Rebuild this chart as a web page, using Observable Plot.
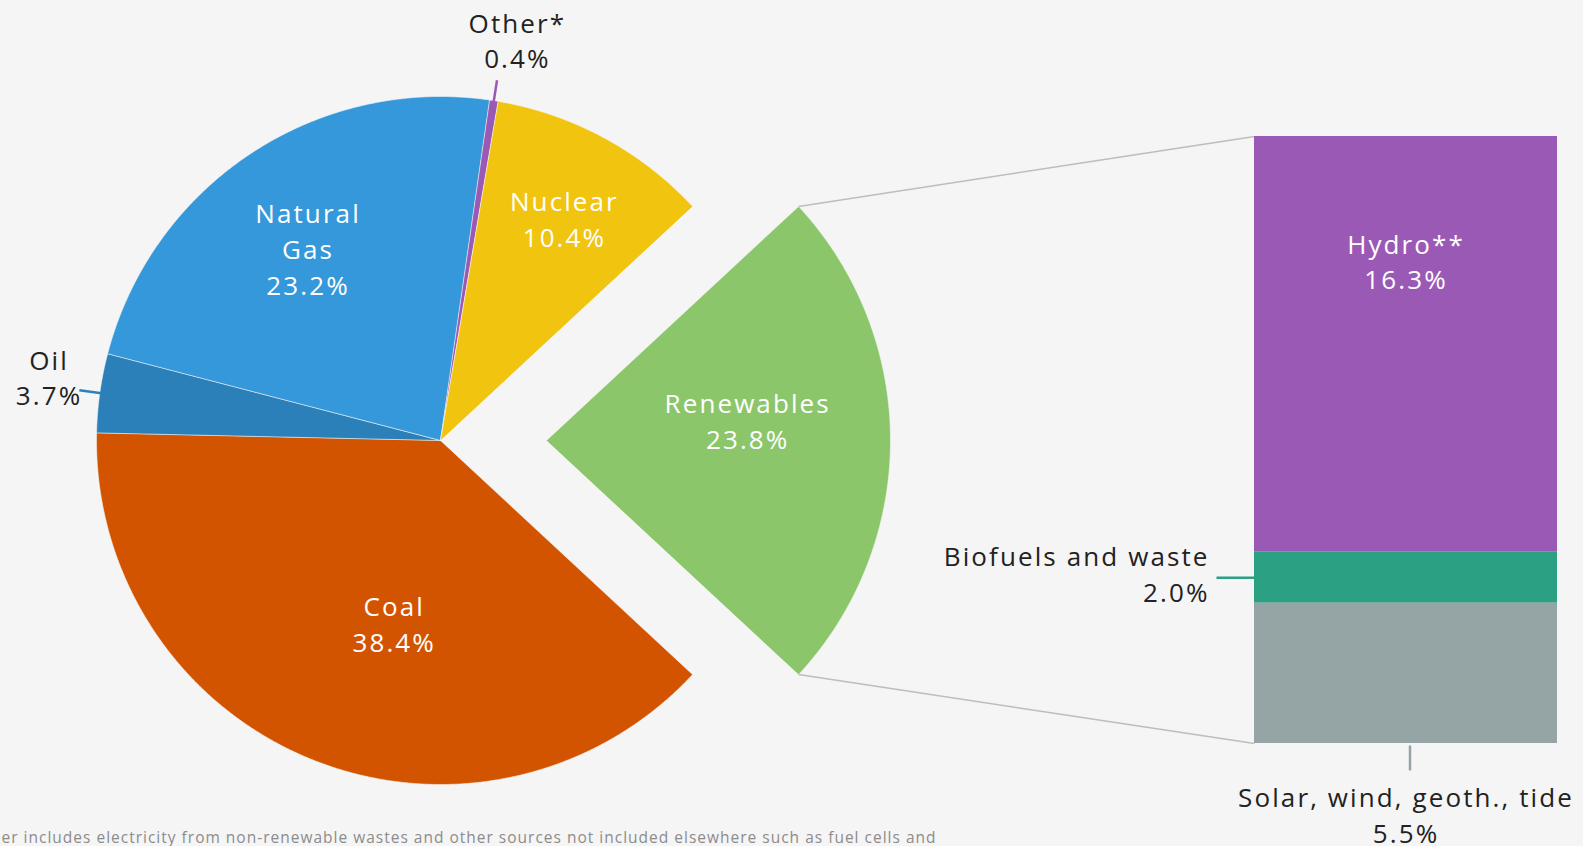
<!DOCTYPE html>
<html><head><meta charset="utf-8">
<script src="https://cdn.jsdelivr.net/npm/d3@7"></script>
<script src="https://cdn.jsdelivr.net/npm/@observablehq/plot@0.6"></script>
<style>html,body{margin:0;padding:0;background:#f5f5f5;overflow:hidden}</style>
</head><body><div id="chart"></div><script>
// ---- data ----
const sources = ["Renewables", "Coal", "Oil", "Natural Gas", "Other*", "Nuclear"];
const sourceLabels = ["Renewables", "Coal", "Oil", "Natural\nGas", "Other*", "Nuclear"];
const shares = [23.8, 38.4, 3.7, 23.2, 0.4, 10.4];
const sourceColors = ["#8cc66a", "#d35400", "#2c80b9", "#3498db", "#9b59b6", "#f1c40f"];

const renewableParts = ["Hydro**", "Biofuels and waste", "Solar, wind, geoth., tide"];
const renewableShares = [16.3, 2.0, 5.5];
const renewableColors = ["#9b59b6", "#2ca083", "#95a5a6"];

const footnote = "*Other includes electricity from non-renewable wastes and other sources not included elsewhere such as fuel cells and";

// ---- layout ----
const W = 1583, H = 846;
const cx = 440, cy = 440, R = 344, explode = 106;
const barX0 = 1254, barX1 = 1557, barY0 = 136, barY1 = 743;
const labelLayout = {
  "Renewables": {f: 0.587, da: -5, inside: true},
  "Coal": {f: 0.554, da: -8, inside: true},
  "Oil": {f: 1.152, da: 1, inside: false},
  "Natural Gas": {f: 0.673, da: -1.3, inside: true},
  "Other*": {f: 1.18, da: 2, inside: false},
  "Nuclear": {f: 0.734, da: 1, inside: true}
};

// ---- geometry from data ----
const total = d3.sum(shares);
const start = Math.PI / 2 - Math.PI * shares[0] / total;
const arcs = d3.pie().sort(null).value(d => d).startAngle(start).endAngle(start + 2 * Math.PI)(shares);
const slices = sources.map((name, i) => ({
  name, value: shares[i], label: sourceLabels[i],
  a0: arcs[i].startAngle, a1: arcs[i].endAngle,
  ox: i === 0 ? explode : 0
}));
const pt = (s, rr, a) => ({x: cx + s.ox + rr * Math.sin(a), y: cy - rr * Math.cos(a)});

const polygons = [];
for (const s of slices) {
  polygons.push({name: s.name, ...pt(s, 0, 0)});
  const n = Math.max(2, Math.ceil((s.a1 - s.a0) / (Math.PI / 720)));
  for (let k = 0; k <= n; k++) polygons.push({name: s.name, ...pt(s, R, s.a0 + (s.a1 - s.a0) * k / n)});
}

const labels = slices.map(s => {
  const L = labelLayout[s.name];
  const mid = (s.a0 + s.a1) / 2 + L.da * Math.PI / 180;
  return {name: s.name, text: `${s.label}\n${s.value.toFixed(1)}%`, inside: L.inside, ...pt(s, R * L.f, mid)};
});

const leaders = slices.filter(s => !labelLayout[s.name].inside).map(s => {
  const mid = (s.a0 + s.a1) / 2;
  const p1 = pt(s, R * 0.995, mid), p2 = pt(s, R * 1.06, mid);
  return {name: s.name, x1: p1.x, y1: p1.y, x2: p2.x, y2: p2.y};
});

// stacked bar
const ren = slices[0];
const barScale = d3.scaleLinear().domain([0, d3.sum(renewableShares)]).range([barY0, barY1]);
let acc = 0;
const bars = renewableParts.map((name, i) => {
  const b = {name, value: renewableShares[i], y1: barScale(acc), y2: barScale(acc + renewableShares[i])};
  acc += renewableShares[i];
  return b;
});
const barMidX = (barX0 + barX1) / 2;
const lbl = b => `${b.name}\n${b.value.toFixed(1)}%`;

const tipTop = pt(ren, R, ren.a0), tipBot = pt(ren, R, ren.a1);
const connectors = [
  {x1: tipTop.x, y1: tipTop.y, x2: barX0, y2: barY0},
  {x1: tipBot.x, y1: tipBot.y, x2: barX0, y2: barY1}
];

const hydroLabel = [{text: lbl(bars[0]), x: barMidX, y: bars[0].y1 + 0.305 * (bars[0].y2 - bars[0].y1)}];
const bioLabel = [{text: lbl(bars[1]), x: barX0 - 45, y: (bars[1].y1 + bars[1].y2) / 2 - 2}];
const solarLabel = [{text: lbl(bars[2]), x: barMidX, y: barY1 + 73}];
const barLeaders = [
  {name: bars[1].name, x1: barX0 - 38, y1: (bars[1].y1 + bars[1].y2) / 2, x2: barX0, y2: (bars[1].y1 + bars[1].y2) / 2},
  {name: bars[2].name, x1: barMidX + 4, y1: barY1 + 2, x2: barMidX + 4, y2: barY1 + 27}
];

const txt = {x: "x", y: "y", text: "text", fontSize: 26, lineHeight: 1.37, dy: -3};

const chart = Plot.plot({
  width: W, height: H, margin: 0,
  x: {domain: [0, W], range: [0, W], axis: null},
  y: {domain: [0, H], range: [0, H], axis: null},
  color: {domain: [...sources, ...renewableParts], range: [...sourceColors, ...renewableColors]},
  style: {background: "#f5f5f5", fontFamily: "'Open Sans', sans-serif", letterSpacing: "2.1px"},
  marks: [
    Plot.line(polygons, {x: "x", y: "y", z: "name", fill: "name", stroke: "#f5f5f5", strokeWidth: 0.6, curve: "linear-closed"}),
    Plot.link(connectors, {x1: "x1", y1: "y1", x2: "x2", y2: "y2", stroke: "#bdbdbd", strokeWidth: 1.5}),
    Plot.rect(bars, {x1: () => barX0, x2: () => barX1, y1: "y1", y2: "y2", fill: "name"}),
    Plot.link(leaders, {x1: "x1", y1: "y1", x2: "x2", y2: "y2", stroke: "name", strokeWidth: 2.5}),
    Plot.link(barLeaders, {x1: "x1", y1: "y1", x2: "x2", y2: "y2", stroke: "name", strokeWidth: 2.5}),
    Plot.text(labels.filter(d => d.inside), {...txt, fill: "#ffffff"}),
    Plot.text(labels.filter(d => !d.inside), {...txt, fill: "#222222"}),
    Plot.text(hydroLabel, {...txt, fill: "#ffffff"}),
    Plot.text(bioLabel, {...txt, fill: "#222222", textAnchor: "end"}),
    Plot.text(solarLabel, {...txt, fill: "#222222"}),
    Plot.text([footnote], {x: () => 936, y: () => 838, text: d => d, textAnchor: "end", fill: "#8c8c8c", fontSize: 15.5})
  ]
});
const textGroups = chart.querySelectorAll('g[aria-label="text"]');
textGroups[textGroups.length - 1].setAttribute("letter-spacing", "1px");
document.getElementById("chart").appendChild(chart);
</script></body></html>
